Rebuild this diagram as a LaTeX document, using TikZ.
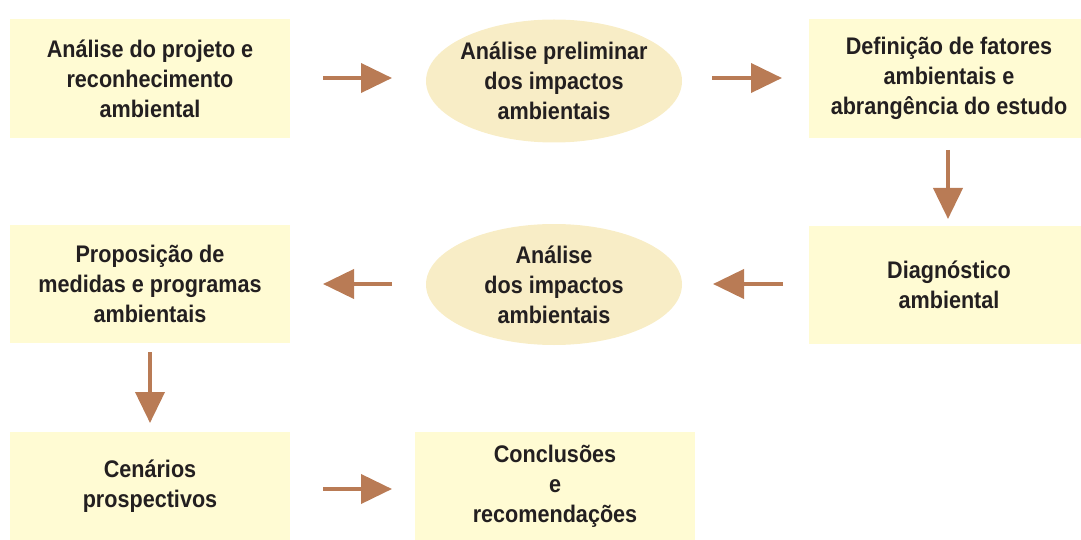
\documentclass[tikz,border=0pt]{standalone}
\usepackage{fontspec}
\setmainfont{Liberation Sans}[FakeStretch=0.9]
\usetikzlibrary{shapes.geometric,arrows.meta}
\definecolor{boxfill}{HTML}{FFFBD3}
\definecolor{ellfill}{HTML}{F8EDC6}
\definecolor{arr}{HTML}{B97B55}
\definecolor{txt}{HTML}{231F20}
\begin{document}
\begin{tikzpicture}[x=1pt,y=-1pt,
  every node/.style={font=\fontsize{24}{30}\selectfont\bfseries, text=txt, align=center, inner sep=0pt},
  box/.style={fill=boxfill, draw=none, minimum width=280pt, minimum height=119pt},
  ell/.style={ellipse, fill=ellfill, draw=none, inner xsep=-40pt, inner ysep=-20pt, minimum width=256pt, minimum height=123pt},
  flow/.style={draw=arr, line width=4pt, -{Triangle[length=31pt,width=29pt]}}]
\useasboundingbox (0,0) rectangle (1081,540);
\node[box] (a) at (150,78.5) {Análise do projeto e\\reconhecimento\\ambiental};
\node[ell] (b) at (554,81) {Análise preliminar\\dos impactos\\ambientais};
\node[box] (c) at (949,78.5) {Definição de fatores\\ambientais e\\abrangência do estudo};
\node[box, minimum height=118pt] (d) at (949,284.5) {Diagnóstico\\ambiental};
\node[ell, minimum height=121pt] (e) at (554,284.5) {Análise\\dos impactos\\ambientais};
\node[box, minimum height=118pt] (f) at (150,284) {Proposição de\\medidas e programas\\ambientais};
\node[box, minimum height=108pt] (g) at (150,486) {Cenários\\prospectivos};
\node[box, minimum height=108pt] (h) at (555,486) {Conclusões\\e\\recomendações};
\coordinate (a1) at (323,78); \coordinate (a2) at (392,78);
\coordinate (b1) at (712,78); \coordinate (b2) at (782,78);
\coordinate (c1) at (948,150); \coordinate (c2) at (948,219);
\coordinate (d1) at (783,284); \coordinate (d2) at (713,284);
\coordinate (e1) at (392,284); \coordinate (e2) at (323,284);
\coordinate (f1) at (150,352); \coordinate (f2) at (150,423);
\coordinate (g1) at (323,489); \coordinate (g2) at (392,489);
\draw[flow] (a1) -- (a2);
\draw[flow] (b1) -- (b2);
\draw[flow] (c1) -- (c2);
\draw[flow] (d1) -- (d2);
\draw[flow] (e1) -- (e2);
\draw[flow] (f1) -- (f2);
\draw[flow] (g1) -- (g2);
\end{tikzpicture}
\end{document}
